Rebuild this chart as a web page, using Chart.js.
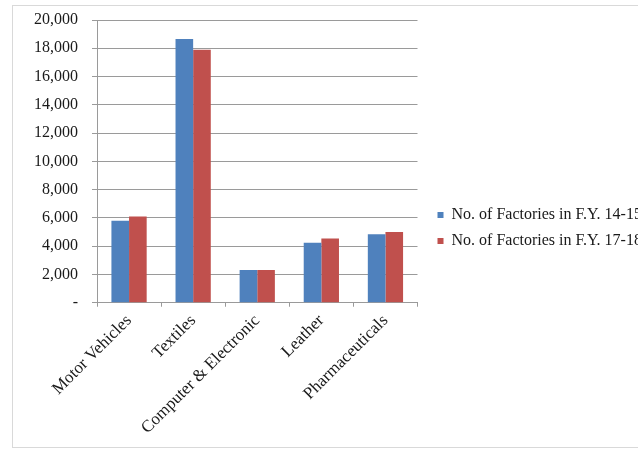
<!DOCTYPE html>
<html>
<head>
<meta charset="utf-8">
<script src="https://cdn.jsdelivr.net/npm/chart.js@4/dist/chart.umd.min.js"></script>
<style>
  html, body { margin: 0; padding: 0; background: #fff; width: 638px; height: 452px; overflow: hidden; }
  #frame { position: absolute; left: 12px; top: 5px; width: 700px; height: 441px; border: 1px solid #d9d9d9; }
  #c { position: absolute; left: 0; top: 0; }
</style>
</head>
<body>
<div id="frame"></div>
<canvas id="c" width="680" height="452"></canvas>
<script>
// Industries and factory counts for the two financial years
const categories = ['Motor Vehicles', 'Textiles', 'Computer & Electronic', 'Leather', 'Pharmaceuticals'];
const seriesNames = ['No. of Factories in F.Y. 14-15', 'No. of Factories in F.Y. 17-18'];
const factoriesFY1415 = [5800, 18650, 2320, 4250, 4850];
const factoriesFY1718 = [6100, 17900, 2320, 4550, 5000];
const yTicks = [0, 2000, 4000, 6000, 8000, 10000, 12000, 14000, 16000, 18000, 20000];

const serif = 'Liberation Serif, "Times New Roman", serif';
const gridGray = '#9a9a9a';

// Move the legend block a little right and down, and let it run to the canvas edge
const legendNudge = {
  id: 'legendNudge',
  afterLayout(chart) {
    const lg = chart.legend;
    lg.left += 10;
    lg.right = chart.width;
    lg.top += 7;
    lg.bottom += 7;
  }
};

new Chart(document.getElementById('c'), {
  type: 'bar',
  data: {
    labels: categories,
    datasets: [
      { label: seriesNames[0], data: factoriesFY1415, backgroundColor: '#4F81BD' },
      { label: seriesNames[1], data: factoriesFY1718, backgroundColor: '#C0504D' }
    ]
  },
  options: {
    responsive: false,
    animation: false,
    devicePixelRatio: 1,
    layout: { padding: { left: 20, top: 0, right: 130, bottom: 10 } },
    datasets: { bar: { categoryPercentage: 0.55, barPercentage: 1.0 } },
    scales: {
      x: {
        grid: { display: true, drawOnChartArea: false, drawTicks: true, tickLength: 4, color: gridGray },
        border: { color: gridGray },
        ticks: {
          autoSkip: false, minRotation: 45, maxRotation: 45, padding: 4,
          color: '#1a1a1a', font: { family: serif, size: 17 }
        }
      },
      y: {
        min: 0, max: 20000,
        afterBuildTicks(scale) { scale.ticks = yTicks.map(v => ({ value: v })); },
        grid: { color: gridGray, tickLength: 5 },
        border: { color: gridGray },
        ticks: {
          padding: 14, color: '#1a1a1a', font: { family: serif, size: 16, lineHeight: 0.75 },
          callback: v => (v === 0 ? '-' : v.toLocaleString('en-US'))
        }
      }
    },
    plugins: {
      legend: {
        position: 'right',
        labels: {
          boxWidth: 6, boxHeight: 6, padding: 10,
          color: '#1a1a1a', font: { family: serif, size: 16 }
        }
      },
      tooltip: { enabled: false }
    }
  },
  plugins: [legendNudge]
});
</script>
</body>
</html>
